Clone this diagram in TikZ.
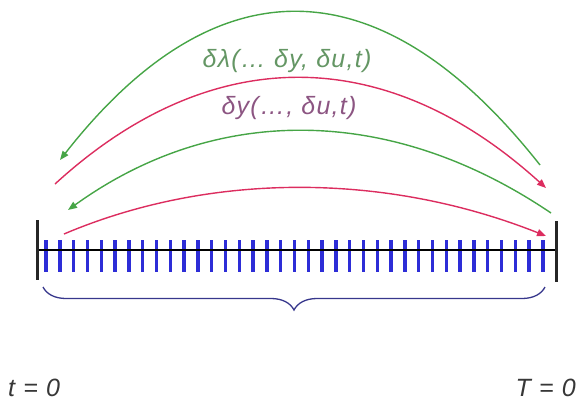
\documentclass[tikz,border=0pt]{standalone}
\usepackage{fontspec}
\setmainfont{Liberation Sans}
\newfontfamily\lblfont[LetterSpace=5]{Liberation Sans}
\usetikzlibrary{arrows.meta,decorations.pathreplacing}
\definecolor{arcgreen}{RGB}{70,165,70}
\definecolor{arcred}{RGB}{220,45,95}
\definecolor{lblgreen}{RGB}{100,150,100}
\definecolor{lblpurple}{RGB}{140,85,130}
\definecolor{tickblue}{RGB}{45,45,215}
\definecolor{bracenavy}{RGB}{55,55,140}
\definecolor{txtgrey}{RGB}{55,55,55}
\tikzset{
  arc/.style={line width=1.4pt,-{Triangle[length=9pt,width=7pt]}},
  lbl/.style={font=\lblfont\fontsize{25}{29}\selectfont\itshape,inner sep=0pt},
  tickmark/.style={tickblue,line width=3.4pt},
}
\begin{document}
\begin{tikzpicture}[x=1pt,y=-1pt]
\useasboundingbox (0,0) rectangle (578,405);
% arc end points
\coordinate (g1s) at (540,165);
\coordinate (g1e) at (60,160);
\coordinate (r1s) at (55,184);
\coordinate (r1e) at (546,188);
\coordinate (g2s) at (551,213);
\coordinate (g2e) at (68,210);
\coordinate (r2s) at (64,234);
\coordinate (r2e) at (546,236);
% arcs
\draw[arc,arcgreen] (g1s) .. controls (380,-38) and (215,-38) .. (g1e);
\draw[arc,arcred] (r1s) .. controls (210,42) and (385,42) .. (r1e);
\draw[arc,arcgreen] (g2s) .. controls (390,104) and (215,104) .. (g2e);
\draw[arc,arcred] (r2s) .. controls (210,172) and (385,172) .. (r2e);
% labels
\node[lbl,text=lblgreen] (l1) at (287,61) {δλ(… δy, δu,t)};
\node[lbl,text=lblpurple] (l2) at (289,108) {δy(…, δu,t)};
% ticks
\foreach \i in {0,...,36} \draw[tickmark] ({46+13.8*\i},240) -- ++(0,32);
% axis
\coordinate (al) at (37,250);
\coordinate (ar) at (556,250);
\draw[black,line width=2.6pt] (al) -- (ar);
\draw[black!85,line width=3pt] (37,220) -- (37,280);
\draw[black!85,line width=3pt] (556,221) -- (556,282);
% brace
\coordinate (bl) at (43,287);
\coordinate (br) at (545,287);
\draw[bracenavy,line width=1.3pt,decorate,decoration={brace,mirror,amplitude=23pt}] (bl) -- (br);
% bottom labels
\node[lbl,text=txtgrey,anchor=west] (t0) at (8,388) {t = 0};
\node[lbl,text=txtgrey,anchor=east] (T0) at (576,388) {T = 0};
\end{tikzpicture}
\end{document}
